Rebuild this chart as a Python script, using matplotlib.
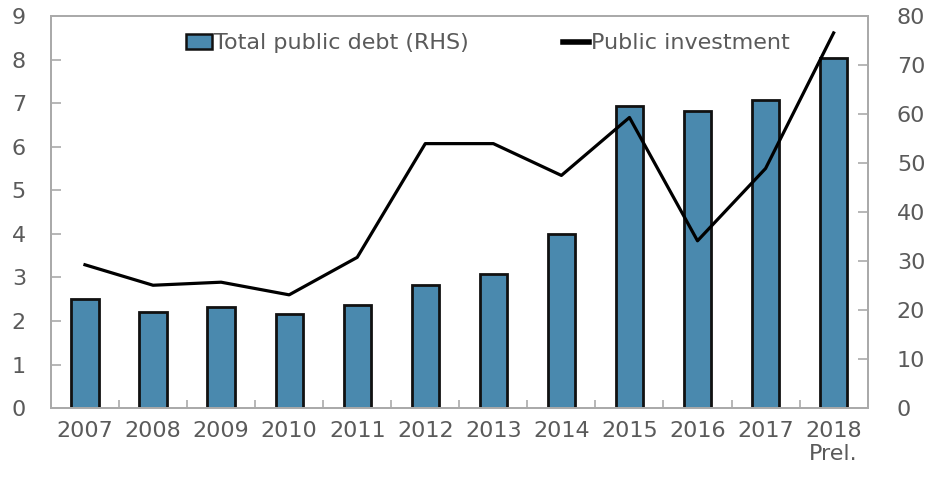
import numpy as np
from matplotlib import pyplot as plt
from matplotlib.patches import Patch
from matplotlib.lines import Line2D

years = ['2007', '2008', '2009', '2010', '2011', '2012',
         '2013', '2014', '2015', '2016', '2017', '2018\nPrel.']
# total public debt, right axis
debt = [22.2, 19.6, 20.6, 19.1, 21.1, 25.2, 27.3, 35.5, 61.7, 60.7, 62.8, 71.4]
# public investment, left axis
invest = [3.29, 2.82, 2.89, 2.60, 3.46, 6.07, 6.07, 5.34, 6.67, 3.84, 5.50, 8.61]

bar_col = '#4a89ae'
grey = '#aaaaaa'
txt = '#5a5a5a'

fig = plt.figure(figsize=(9.26, 4.83), dpi=100)
ax = fig.add_axes([0.055, 0.155, 0.882, 0.812])
ax2 = ax.twinx()

x = np.arange(len(years))
ax2.bar(x, debt, width=0.4, color=bar_col, edgecolor='#111111', linewidth=2)
ax.plot(x, invest, color='black', lw=2.3)

# line on top of the bars
ax.set_zorder(ax2.get_zorder() + 1)
ax.patch.set_visible(False)

ax.set_xlim(-0.5, len(years) - 0.5)
ax.set_ylim(0, 9)
ax2.set_ylim(0, 80)
ax.set_yticks(range(0, 10))
ax2.set_yticks(range(0, 81, 10))

ax.set_xticks(x)
ax.set_xticklabels(years)
ax.set_xticks(np.arange(0.5, len(years) - 1, 1), minor=True)
ax.tick_params(axis='x', which='major', length=0, pad=9)
ax.tick_params(axis='x', which='minor', direction='in', length=6, color=grey, width=1.2)

for a in (ax, ax2):
    a.tick_params(axis='y', direction='in', length=7, color=grey, width=1.2,
                  labelcolor=txt, labelsize=16)
    for s in a.spines.values():
        s.set_color(grey)
        s.set_linewidth(1.3)
ax.tick_params(axis='x', labelcolor=txt, labelsize=16)
ax.tick_params(axis='y', pad=18)
ax2.tick_params(axis='y', pad=21)

handles = [Patch(facecolor=bar_col, edgecolor='#111111', linewidth=1.8),
           Line2D([0], [0], color='black', lw=4)]
labels = ['Total public debt (RHS)', 'Public investment']
leg = ax.legend(handles, labels, ncol=2, loc='center', bbox_to_anchor=(0.535, 0.93),
                frameon=False, fontsize=16, handlelength=1.2, handletextpad=0.1,
                columnspacing=4.2)
for t in leg.get_texts():
    t.set_color(txt)

plt.savefig('out.png', dpi=100)
